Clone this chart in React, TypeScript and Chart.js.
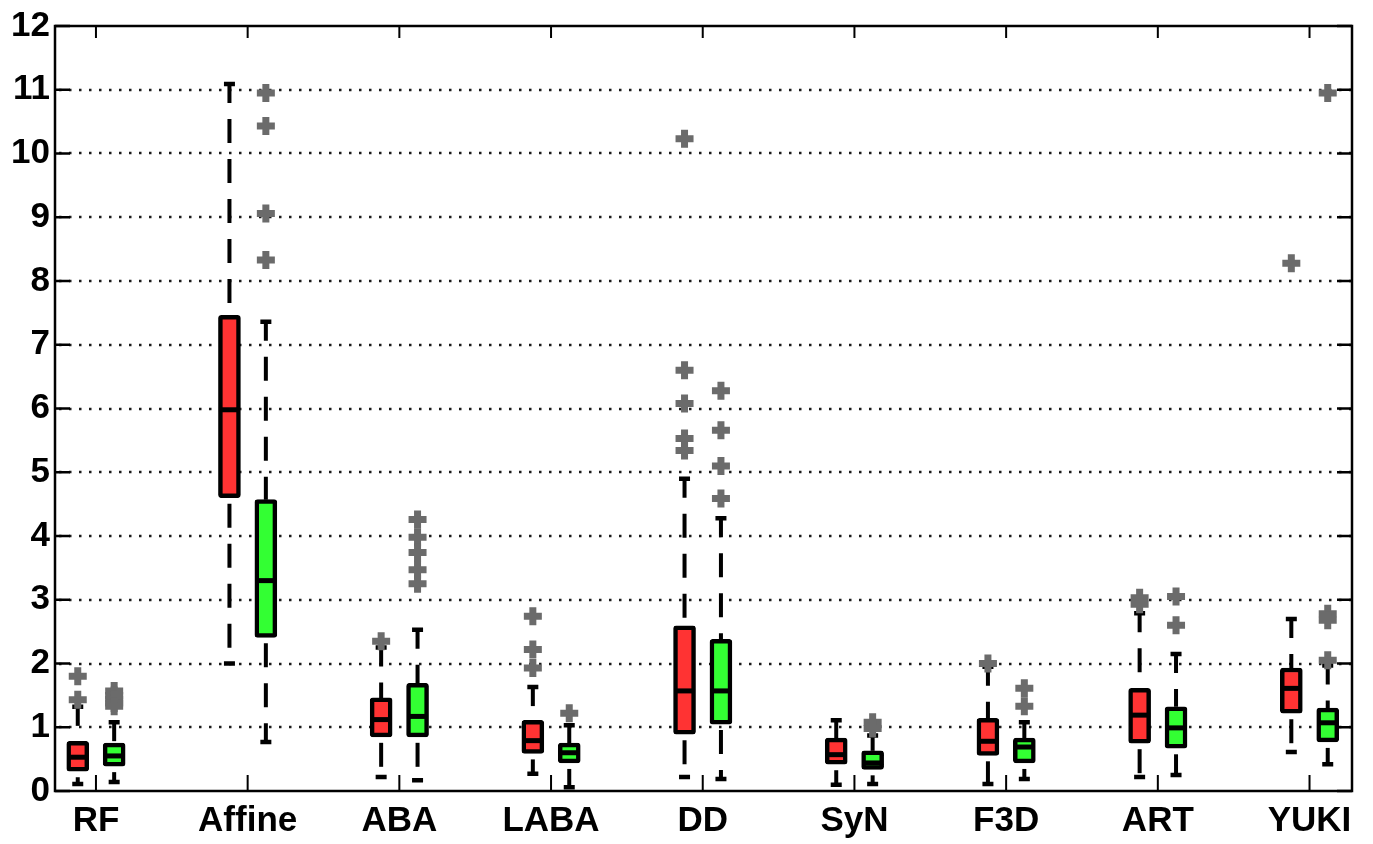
import React, { useEffect, useRef } from 'react';
import { Chart, registerables } from 'chart.js';

Chart.register(...registerables);

const categories = ['RF', 'Affine', 'ABA', 'LABA', 'DD', 'SyN', 'F3D', 'ART', 'YUKI'];
const yTickValues = [0, 1, 2, 3, 4, 5, 6, 7, 8, 9, 10, 11, 12];

// Red series (box statistics)
const redLower = [0.11, 2.0, 0.22, 0.27, 0.22, 0.1, 0.11, 0.22, 0.61];
const redQ1 = [0.31, 4.6, 0.85, 0.59, 0.89, 0.42, 0.56, 0.75, 1.22];
const redMedian = [0.53, 5.98, 1.12, 0.79, 1.57, 0.57, 0.78, 1.19, 1.61];
const redQ3 = [0.78, 7.46, 1.46, 1.11, 2.59, 0.83, 1.14, 1.61, 1.93];
const redUpper = [1.32, 11.09, 2.25, 1.63, 4.9, 1.11, 1.95, 2.79, 2.7];
const redOutliers = [
  [1.8, 1.43],
  [],
  [2.35],
  [2.74, 2.22, 1.93],
  [10.23, 6.6, 6.08, 5.53, 5.34],
  [],
  [2.0],
  [3.03, 2.93],
  [8.28],
];

// Green series (box statistics)
const greenLower = [0.14, 0.77, 0.17, 0.06, 0.19, 0.11, 0.19, 0.25, 0.42];
const greenQ1 = [0.39, 2.41, 0.85, 0.44, 1.05, 0.34, 0.44, 0.67, 0.77];
const greenMedian = [0.55, 3.3, 1.17, 0.6, 1.57, 0.44, 0.69, 0.99, 1.07];
const greenQ3 = [0.75, 4.57, 1.69, 0.75, 2.38, 0.63, 0.83, 1.32, 1.3];
const greenUpper = [1.08, 7.36, 2.53, 1.03, 4.28, 0.87, 1.08, 2.15, 1.97];
const greenOutliers = [
  [1.57, 1.5, 1.44, 1.38, 1.33],
  [10.95, 10.43, 9.06, 8.33],
  [4.26, 3.98, 3.74, 3.47, 3.25],
  [1.22],
  [6.28, 5.66, 5.1, 4.59],
  [1.08, 0.98],
  [1.61, 1.33],
  [3.05, 2.6],
  [10.95, 2.78, 2.68, 2.05],
];

const OFFSET = 0.12;
const RED = '#ff3333';
const GREEN = '#33ff33';
const OUTLIER = '#6b6b6b';
const FONT = { family: 'Liberation Sans, Arial, sans-serif', size: 35, weight: 'bold' as const };

const series = [
  { dx: -OFFSET, lower: redLower, q1: redQ1, med: redMedian, q3: redQ3, upper: redUpper },
  { dx: OFFSET, lower: greenLower, q1: greenQ1, med: greenMedian, q3: greenQ3, upper: greenUpper },
];

const boxPlugin = {
  id: 'boxExtras',
  beforeDatasetsDraw(chart: any) {
    const { ctx, chartArea, scales } = chart;
    const { left, right, top, bottom } = chartArea;
    const xs = scales.x;
    const ys = scales.y;
    ctx.save();
    // dotted grid
    ctx.strokeStyle = '#1a1a1a';
    ctx.lineWidth = 2.5;
    ctx.setLineDash([2.5, 7.5]);
    yTickValues.forEach((v) => {
      if (v === 0 || v === 12) return;
      const y = Math.round(ys.getPixelForValue(v));
      ctx.beginPath();
      ctx.moveTo(left + 4, y);
      ctx.lineTo(right, y);
      ctx.stroke();
    });
    ctx.setLineDash([]);
    // frame
    ctx.strokeStyle = '#000';
    ctx.lineWidth = 2.5;
    ctx.strokeRect(left, top, right - left, bottom - top);
    // y ticks (inner, both sides)
    yTickValues.forEach((v) => {
      const y = ys.getPixelForValue(v);
      ctx.beginPath();
      ctx.moveTo(left, y);
      ctx.lineTo(left + 15, y);
      ctx.moveTo(right - 15, y);
      ctx.lineTo(right, y);
      ctx.stroke();
    });
    // x ticks (inner, bottom and top)
    ctx.lineWidth = 2;
    categories.forEach((_, i) => {
      const x = xs.getPixelForValue(i + 1);
      ctx.beginPath();
      ctx.moveTo(x, bottom);
      ctx.lineTo(x, bottom - 16);
      ctx.moveTo(x, top);
      ctx.lineTo(x, top + 12);
      ctx.stroke();
    });
    // whiskers + caps
    ctx.strokeStyle = '#000';
    series.forEach((s) => {
      categories.forEach((_, i) => {
        const x = xs.getPixelForValue(i + 1 + s.dx);
        const yU = ys.getPixelForValue(s.upper[i]);
        const yQ3 = ys.getPixelForValue(s.q3[i]);
        const yQ1 = ys.getPixelForValue(s.q1[i]);
        const yL = ys.getPixelForValue(s.lower[i]);
        ctx.lineWidth = 4;
        ctx.setLineDash([24, 16]);
        ctx.lineDashOffset = 5;
        ctx.beginPath();
        ctx.moveTo(x, yU);
        ctx.lineTo(x, yQ3);
        ctx.stroke();
        ctx.lineDashOffset = 34;
        ctx.beginPath();
        ctx.moveTo(x, yQ1);
        ctx.lineTo(x, yL);
        ctx.stroke();
        ctx.setLineDash([]);
        ctx.lineDashOffset = 0;
        ctx.lineWidth = 4.5;
        ctx.beginPath();
        ctx.moveTo(x - 5.5, yU);
        ctx.lineTo(x + 5.5, yU);
        ctx.moveTo(x - 5.5, yL);
        ctx.lineTo(x + 5.5, yL);
        ctx.stroke();
      });
    });
    ctx.restore();
  },
  afterDatasetsDraw(chart: any) {
    const { ctx, scales } = chart;
    const xs = scales.x;
    const ys = scales.y;
    ctx.save();
    ctx.strokeStyle = '#000';
    ctx.lineWidth = 5;
    series.forEach((s) => {
      categories.forEach((_, i) => {
        const x = xs.getPixelForValue(i + 1 + s.dx);
        const y = ys.getPixelForValue(s.med[i]);
        ctx.beginPath();
        ctx.moveTo(x - 10.5, y);
        ctx.lineTo(x + 10.5, y);
        ctx.stroke();
      });
    });
    ctx.restore();
  },
};

export default function App() {
  const ref = useRef<HTMLCanvasElement>(null);

  useEffect(() => {
    if (!ref.current) return;
    const boxData = (q1: number[], q3: number[], dx: number) =>
      categories.map((_, i) => ({ x: i + 1 + dx, y: [q1[i], q3[i]] }));
    const outData = (arr: number[][], dx: number) =>
      arr.flatMap((vals, i) => vals.map((v) => ({ x: i + 1 + dx, y: v })));

    const chart = new Chart(ref.current, {
      type: 'bar',
      data: {
        datasets: [
          {
            type: 'scatter',
            label: 'red outliers',
            data: outData(redOutliers, -OFFSET),
            pointStyle: 'cross',
            radius: 9,
            borderWidth: 7,
            borderColor: OUTLIER,
            backgroundColor: OUTLIER,
            order: 1,
          } as any,
          {
            type: 'scatter',
            label: 'green outliers',
            data: outData(greenOutliers, OFFSET),
            pointStyle: 'cross',
            radius: 9,
            borderWidth: 7,
            borderColor: OUTLIER,
            backgroundColor: OUTLIER,
            order: 1,
          } as any,
          {
            type: 'bar',
            label: 'red',
            data: boxData(redQ1, redQ3, -OFFSET),
            backgroundColor: RED,
            borderColor: '#000',
            borderWidth: 4.5,
            borderSkipped: false,
            borderRadius: 3,
            barThickness: 22,
            grouped: false,
            order: 2,
          } as any,
          {
            type: 'bar',
            label: 'green',
            data: boxData(greenQ1, greenQ3, OFFSET),
            backgroundColor: GREEN,
            borderColor: '#000',
            borderWidth: 4.5,
            borderSkipped: false,
            borderRadius: 3,
            barThickness: 22,
            grouped: false,
            order: 2,
          } as any,
        ],
      },
      options: {
        responsive: false,
        animation: false,
        devicePixelRatio: 1,
        layout: { padding: { top: 25, right: 21, bottom: 0, left: 0 } },
        plugins: {
          legend: { display: false },
          tooltip: { enabled: false },
        },
        scales: {
          x: {
            type: 'linear',
            offset: false,
            min: 0.73,
            max: 9.28,
            afterBuildTicks: (s: any) => {
              s.ticks = categories.map((_, i) => ({ value: i + 1 }));
            },
            afterFit: (s: any) => {
              s.height = 53;
            },
            ticks: {
              callback: (v: any) => categories[Number(v) - 1] ?? '',
              font: FONT,
              color: '#000',
              padding: 9,
              maxRotation: 0,
              autoSkip: false,
            },
            grid: { display: false, drawTicks: false, offset: false },
            border: { display: false },
          },
          y: {
            type: 'linear',
            min: 0,
            max: 12,
            afterBuildTicks: (s: any) => {
              s.ticks = yTickValues.map((v) => ({ value: v }));
            },
            afterFit: (s: any) => {
              s.width = 55;
            },
            ticks: {
              font: FONT,
              color: '#000',
              padding: 5,
            },
            grid: { display: false, drawTicks: false },
            border: { display: false },
          },
        },
      } as any,
      plugins: [boxPlugin],
    });
    return () => chart.destroy();
  }, []);

  return (
    <div style={{ position: 'fixed', left: 0, top: 0, width: 1373, height: 844, background: '#fff' }}>
      <canvas ref={ref} width={1373} height={844} style={{ width: 1373, height: 844, display: 'block' }} />
    </div>
  );
}
